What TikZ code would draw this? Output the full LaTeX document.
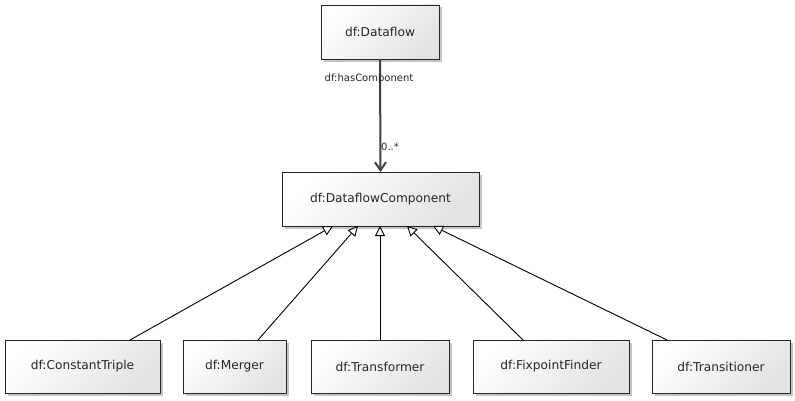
\documentclass[tikz,border=0pt]{standalone}
\usepackage{fontspec}
\setmainfont{DejaVu Sans}
\usetikzlibrary{arrows.meta,shadows}
\tikzset{
  cls/.style={draw=black!85, line width=0.9pt, inner sep=0pt, outer sep=0pt,
    minimum height=53pt, top color=white, bottom color=black!11, shading angle=45,
    drop shadow={shadow xshift=2.5pt, shadow yshift=-2.5pt, fill=black!45, opacity=0.5},
    font=\fontsize{12.2}{14}\selectfont, text=black!85},
  gen/.style={draw=black, line width=0.9pt, -{Triangle[open, length=10pt, width=10pt, fill=white]}},
  assoc/.style={draw=black!75, line width=2pt, -{Straight Barb[length=8pt, width=11pt]}},
  lbl/.style={font=\fontsize{10}{12}\selectfont, text=black!85, inner sep=0pt}
}
\begin{document}
\begin{tikzpicture}[x=1pt,y=1pt]
\useasboundingbox (0,0) rectangle (795,400);
\node[cls, minimum width=118pt, minimum height=54pt] (df) at (380,368) {df:Dataflow};
\node[cls, minimum width=197pt, minimum height=54pt] (dfc) at (380.5,201) {df:DataflowComponent};
\node[cls, minimum width=155pt] (ct) at (82.5,33.5) {df:ConstantTriple};
\node[cls, minimum width=103pt] (mg) at (234.5,33.5) {df:Merger};
\node[cls, minimum width=138pt] (tf) at (380,33.5) {df:Transformer};
\node[cls, minimum width=156pt] (ff) at (551,33.5) {df:FixpointFinder};
\node[cls, minimum width=138pt] (ts) at (721,33.5) {df:Transitioner};
\draw[assoc] (df.south) -- (dfc.north);
\node[lbl] (hc) at (369,321) {df:hasComponent};
\node[lbl, anchor=west] (mult) at (381,253) {0..*};
\draw[gen] ([xshift=47.5pt]ct.north) -- ([xshift=-47.5pt]dfc.south);
\draw[gen] ([xshift=23.5pt]mg.north) -- ([xshift=-22.5pt]dfc.south);
\draw[gen] (tf.north) -- ([xshift=-0.5pt]dfc.south);
\draw[gen] ([xshift=-28pt]ff.north) -- ([xshift=26.5pt]dfc.south);
\draw[gen] ([xshift=-54pt]ts.north) -- ([xshift=52.5pt]dfc.south);
\end{tikzpicture}
\end{document}
